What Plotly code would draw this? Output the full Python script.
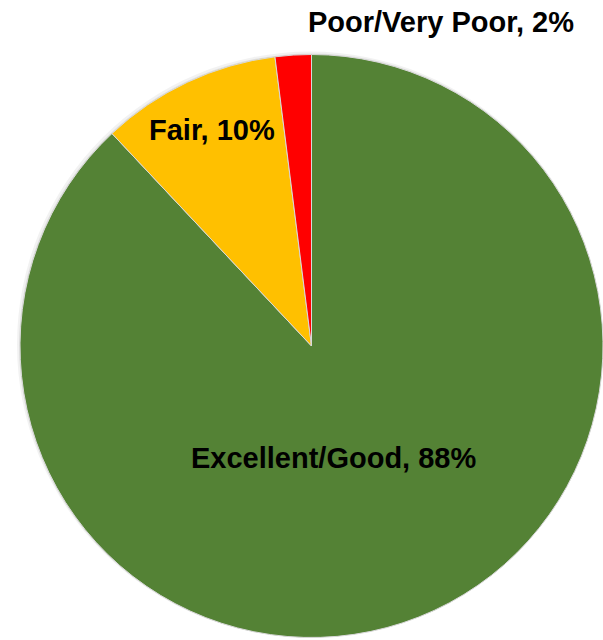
import plotly.graph_objects as go

# Rating shares
categories = ["Excellent/Good", "Fair", "Poor/Very Poor"]
shares = [88, 10, 2]
colors = ["#548235", "#FFC000", "#FF0000"]

W, H = 603, 640

fig = go.Figure()

# soft drop shadow behind the pie
for grow, alpha in [(6, 0.05), (4, 0.07), (2, 0.10)]:
    fig.add_trace(go.Pie(
        values=[1], labels=["shadow"], sort=False,
        marker=dict(colors=[f"rgba(0,0,0,{alpha})"]),
        textinfo="none", hoverinfo="skip", showlegend=False,
        domain=dict(x=[(20 - grow + 3) / W, 1], y=[0, (588 + grow - 3) / H]),
    ))

fig.add_trace(go.Pie(
    labels=categories,
    values=shares,
    sort=False,
    direction="clockwise",
    rotation=0,
    marker=dict(colors=colors, line=dict(color="#D9D9D9", width=1)),
    textinfo="none",
    showlegend=False,
    domain=dict(x=[20 / W, 1], y=[0, 588 / H]),
))

label_pos = {
    "Excellent/Good": (333, 458),
    "Fair": (212, 130),
    "Poor/Very Poor": (441, 22),
}
for cat, val in zip(categories, shares):
    px, py = label_pos[cat]
    fig.add_annotation(
        x=px / W, y=1 - py / H, xref="paper", yref="paper",
        text=f"<b>{cat}, {val}%</b>", showarrow=False,
        font=dict(family="Liberation Sans, Arial", size=29, color="black"),
        xanchor="center", yanchor="middle",
    )

fig.update_layout(
    width=W, height=H,
    margin=dict(l=0, r=0, t=0, b=0),
    paper_bgcolor="white", plot_bgcolor="white",
)

fig.write_html("out.html")
